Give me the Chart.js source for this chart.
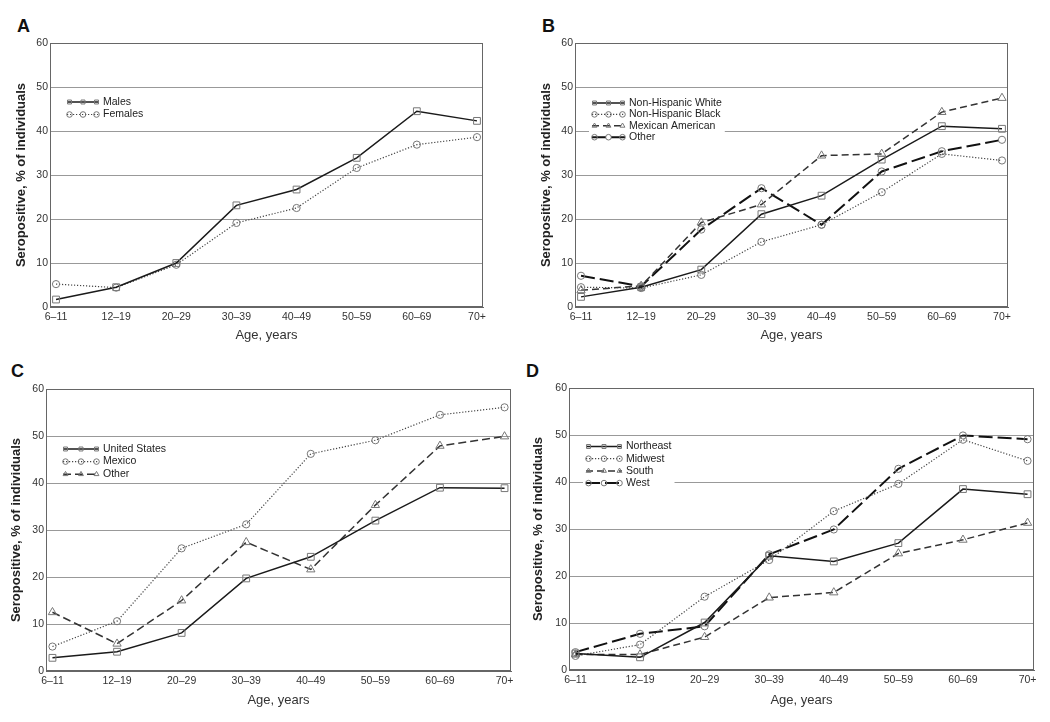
<!DOCTYPE html>
<html>
<head>
<meta charset="utf-8">
<script src="https://cdn.jsdelivr.net/npm/chart.js@4"></script>
<style>
  html, body { margin: 0; padding: 0; background: #fff; }
  #wrap { position: relative; width: 1050px; height: 722px; }
  canvas { position: absolute; }
  .tag { position: absolute; font: bold 18px "Liberation Sans", Arial, sans-serif; line-height: 18px; color: #111; }
</style>
</head>
<body>
<div id="wrap">
  <div class="tag" style="left:17px;top:17px">A</div>
  <div class="tag" style="left:542px;top:17px">B</div>
  <div class="tag" style="left:11px;top:362px">C</div>
  <div class="tag" style="left:526px;top:362px">D</div>
  <canvas id="chartA" width="525" height="361" style="left:0;top:0"></canvas>
  <canvas id="chartB" width="525" height="361" style="left:525px;top:0"></canvas>
  <canvas id="chartC" width="525" height="361" style="left:0;top:361px"></canvas>
  <canvas id="chartD" width="525" height="361" style="left:525px;top:361px"></canvas>
</div>
<script>
// age groups on the x axis
var ageGroups = ['6–11', '12–19', '20–29', '30–39', '40–49', '50–59', '60–69', '70+'];
var yTicks = [0, 10, 20, 30, 40, 50, 60];

// A: sex
var males = [1.7, 4.5, 10.0, 23.1, 26.7, 33.9, 44.5, 42.3];
var females = [5.2, 4.4, 9.6, 19.1, 22.5, 31.6, 36.9, 38.6];

// B: race / ethnicity
var nhWhite = [2.3, 4.5, 8.5, 21.1, 25.3, 33.5, 41.1, 40.5];
var nhBlack = [4.5, 4.3, 7.3, 14.8, 18.7, 26.1, 34.8, 33.3];
var mexAmerican = [3.8, 4.8, 19.2, 23.3, 34.4, 34.8, 44.3, 47.5];
var otherRace = [7.1, 4.7, 17.6, 27.0, 18.7, 30.8, 35.4, 38.0];

// C: country of birth
var usBorn = [2.8, 4.1, 8.1, 19.7, 24.3, 32.0, 39.0, 38.9];
var mexicoBorn = [5.2, 10.6, 26.1, 31.2, 46.2, 49.1, 54.5, 56.1];
var otherBorn = [12.5, 5.8, 15.0, 27.4, 21.6, 35.3, 47.9, 49.9];

// D: region
var northeast = [3.5, 2.7, 10.1, 24.3, 23.1, 27.0, 38.5, 37.4];
var midwest = [3.0, 5.4, 15.6, 23.4, 33.8, 39.6, 49.0, 44.5];
var south = [3.3, 3.3, 7.0, 15.4, 16.5, 24.8, 27.7, 31.3];
var west = [3.8, 7.7, 9.3, 24.6, 29.9, 42.8, 49.9, 49.1];

var FONT = '"Liberation Sans", Arial, sans-serif';

var solid = { borderColor: '#1a1a1a', borderWidth: 1.5, borderDash: [] };
var dotted = { borderColor: '#444', borderWidth: 1.2, borderDash: [1.2, 1.8] };
var dashed = { borderColor: '#333', borderWidth: 1.5, borderDash: [7, 4] };
var longDash = { borderColor: '#111', borderWidth: 2, borderDash: [14, 5] };

function series(label, values, style, marker) {
    return Object.assign({
        label: label,
        data: values.map(function (v, i) { return { x: i, y: v }; }),
        pointStyle: marker,
        pointRadius: marker === 'circle' ? 3.6 : 4.8,
        pointBorderColor: '#777',
        pointBorderWidth: 1,
        pointBackgroundColor: 'rgba(255,255,255,0)',
        tension: 0,
        fill: false
    }, style);
}

// frame around plot area
var frame = {
    id: 'frame',
    beforeDatasetsDraw: function (chart) {
        var a = chart.chartArea, ctx = chart.ctx;
        ctx.save();
        ctx.strokeStyle = '#666';
        ctx.lineWidth = 1;
        ctx.strokeRect(Math.round(a.left) + 0.5, Math.round(a.top) + 0.5, Math.round(a.right - a.left) - 1, Math.round(a.bottom - a.top) - 1);
        ctx.restore();
    }
};

// legend drawn inside the plot, with a white box behind it
function innerLegend(cfg) {
    return {
        id: 'innerLegend',
        afterDatasetsDraw: function (chart) {
            var ctx = chart.ctx, a = chart.chartArea;
            var x0 = a.left + cfg.x, y0 = a.top + cfg.y;
            var items = chart.data.datasets;
            ctx.save();
            ctx.font = '10.5px ' + FONT;
            var maxW = 0;
            items.forEach(function (d) { maxW = Math.max(maxW, ctx.measureText(d.label).width); });
            ctx.fillStyle = '#fff';
            ctx.fillRect(x0 - 3, y0 - 7, cfg.textX + maxW + 6, (items.length - 1) * cfg.gap + 14);
            items.forEach(function (d, i) {
                var y = y0 + i * cfg.gap;
                ctx.strokeStyle = d.borderColor;
                ctx.lineWidth = d.borderWidth;
                ctx.setLineDash(d.borderDash);
                ctx.beginPath();
                ctx.moveTo(x0, y);
                ctx.lineTo(x0 + cfg.len, y);
                ctx.stroke();
                ctx.setLineDash([]);
                ctx.strokeStyle = '#777';
                ctx.lineWidth = 1;
                ctx.fillStyle = 'rgba(255,255,255,0)';
                [x0 + 2.5, x0 + cfg.len / 2, x0 + cfg.len - 2.5].forEach(function (px) {
                    Chart.helpers.drawPoint(ctx, { pointStyle: d.pointStyle, radius: 2.8, borderWidth: 1, rotation: 0 }, px, y);
                });
                ctx.fillStyle = '#222';
                ctx.textBaseline = 'middle';
                ctx.textAlign = 'left';
                ctx.fillText(d.label, x0 + cfg.textX, y);
            });
            ctx.restore();
        }
    };
}

function makePanel(id, datasets, lay) {
    return new Chart(document.getElementById(id), {
        type: 'line',
        data: { datasets: datasets },
        options: {
            responsive: false,
            animation: false,
            devicePixelRatio: 1,
            layout: { padding: { top: lay.top, right: lay.right, bottom: 0, left: 0 } },
            plugins: { legend: { display: false }, tooltip: { enabled: false } },
            scales: {
                x: {
                    type: 'linear',
                    min: -0.1,
                    max: 7.1,
                    afterBuildTicks: function (scale) {
                        scale.ticks = ageGroups.map(function (g, i) { return { value: i }; });
                    },
                    afterFit: function (scale) { scale.height = lay.xH; },
                    grid: { display: false, drawTicks: false },
                    border: { display: true, color: '#666', width: 1 },
                    ticks: {
                        autoSkip: false,
                        maxRotation: 0,
                        padding: 4,
                        color: '#333',
                        font: { family: FONT, size: 10.5 },
                        callback: function (v) { return ageGroups[v]; }
                    },
                    title: {
                        display: true,
                        text: 'Age, years',
                        color: '#333',
                        font: { family: FONT, size: 13, lineHeight: 1.2 },
                        padding: { top: 0, bottom: lay.xTitlePad }
                    }
                },
                y: {
                    min: 0,
                    max: 60,
                    afterBuildTicks: function (scale) {
                        scale.ticks = yTicks.map(function (v) { return { value: v }; });
                    },
                    afterFit: function (scale) { scale.width = lay.yW; },
                    grid: { color: '#999', lineWidth: 1, drawTicks: false },
                    border: { display: true, color: '#666', width: 1 },
                    ticks: {
                        padding: 2,
                        color: '#333',
                        font: { family: FONT, size: 10.5 }
                    },
                    title: {
                        display: true,
                        text: 'Seropositive, % of individuals',
                        color: '#222',
                        font: { family: FONT, size: 13, weight: 'bold', lineHeight: 1.2 },
                        padding: { top: lay.yTitlePad, bottom: 0 }
                    }
                }
            }
        },
        plugins: [frame, innerLegend(lay.legend)]
    });
}

makePanel('chartA', [
    series('Males', males, solid, 'rect'),
    series('Females', females, dotted, 'circle')
], { top: 43, right: 42, yW: 50, xH: 54, xTitlePad: 18, yTitlePad: 14,
     legend: { x: 17, y: 59, len: 32, textX: 36, gap: 12.5 } });

makePanel('chartB', [
    series('Non-Hispanic White', nhWhite, solid, 'rect'),
    series('Non-Hispanic Black', nhBlack, dotted, 'circle'),
    series('Mexican American', mexAmerican, dashed, 'triangle'),
    series('Other', otherRace, longDash, 'circle')
], { top: 43, right: 42, yW: 50, xH: 54, xTitlePad: 18, yTitlePad: 14,
     legend: { x: 17, y: 60, len: 33, textX: 37, gap: 11.4 } });

makePanel('chartC', [
    series('United States', usBorn, solid, 'rect'),
    series('Mexico', mexicoBorn, dotted, 'circle'),
    series('Other', otherBorn, Object.assign({}, dashed, { borderDash: [8, 4] }), 'triangle')
], { top: 28, right: 14, yW: 46, xH: 51, xTitlePad: 14, yTitlePad: 9,
     legend: { x: 17, y: 60, len: 36, textX: 40, gap: 12.6 } });

makePanel('chartD', [
    series('Northeast', northeast, solid, 'rect'),
    series('Midwest', midwest, dotted, 'circle'),
    series('South', south, dashed, 'triangle'),
    series('West', west, longDash, 'circle')
], { top: 27, right: 16, yW: 44, xH: 52, xTitlePad: 14, yTitlePad: 6,
     legend: { x: 17, y: 58.5, len: 36, textX: 40, gap: 12.2 } });
</script>
</body>
</html>
